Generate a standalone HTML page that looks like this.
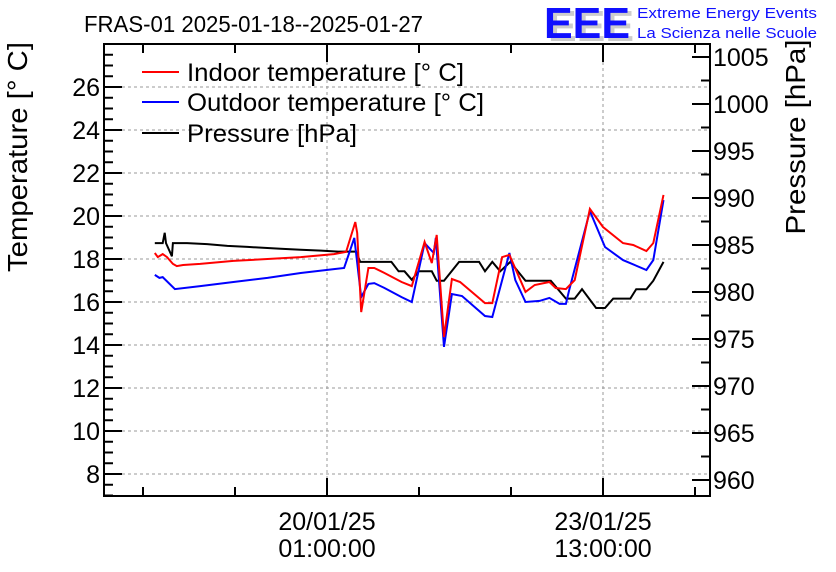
<!DOCTYPE html>
<html><head><meta charset="utf-8"><style>
body{margin:0;background:#fff;}
svg{display:block;font-family:"Liberation Sans",sans-serif;}
</style></head><body>
<svg id="c" width="836" height="572" viewBox="0 0 836 572">
<text x="84" y="32" font-size="23" textLength="339" lengthAdjust="spacingAndGlyphs">FRAS-01 2025-01-18--2025-01-27</text>
<g>
<text x="548" y="41" font-size="44" fill="#ccc" font-weight="bold" textLength="86" lengthAdjust="spacingAndGlyphs">EEE</text>
<text x="544" y="38" font-size="44" fill="#1010ff" font-weight="bold" textLength="86" lengthAdjust="spacingAndGlyphs">EEE</text>
<text x="637" y="18" font-size="15" fill="#1010ff" textLength="180" lengthAdjust="spacingAndGlyphs">Extreme Energy Events</text>
<text x="637" y="38" font-size="15" fill="#1010ff" textLength="180" lengthAdjust="spacingAndGlyphs">La Scienza nelle Scuole</text>
</g>
<g id="grid"></g>
<g id="axes"></g>
<g id="series"></g>
<text transform="translate(27,157) rotate(-90)" text-anchor="middle" font-size="28" textLength="230" lengthAdjust="spacingAndGlyphs">Temperature [° C]</text>
<text transform="translate(805,137) rotate(-90)" text-anchor="middle" font-size="28" textLength="195" lengthAdjust="spacingAndGlyphs">Pressure [hPa]</text>
<g>
<g><line x1="142" y1="72" x2="179" y2="72" stroke="#f00" stroke-width="2"/><text x="187" y="81" font-size="25" textLength="277" lengthAdjust="spacingAndGlyphs">Indoor temperature [° C]</text></g>
<g><line x1="142" y1="102" x2="179" y2="102" stroke="#00f" stroke-width="2"/><text x="187" y="111" font-size="25" textLength="297" lengthAdjust="spacingAndGlyphs">Outdoor temperature [° C]</text></g>
<g><line x1="142" y1="133" x2="179" y2="133" stroke="#000" stroke-width="2"/><text x="187" y="142" font-size="25" textLength="170" lengthAdjust="spacingAndGlyphs">Pressure [hPa]</text></g>
</g>
</svg>
<script>
// hours relative to 20/01/25 01:00:00
const xTickHours=[0,84];
const xTickLabels=[["20/01/25","01:00:00"],["23/01/25","13:00:00"]];
const tempTicks=[8,10,12,14,16,18,20,22,24,26];
const presTicks=[960,965,970,975,980,985,990,995,1000,1005];
const indoorHours=[-52.4,-51.5,-50.0,-48.7,-46.9,-45.7,-43.8,-38.6,-28.5,-18.1,-8.0,2.1,5.8,8.6,9.2,10.4,12.6,14.4,17.5,22.7,25.8,29.7,31.9,33.4,35.6,38.0,40.5,48.1,50.3,53.3,55.5,60.4,63.2,67.7,69.6,72.7,75.4,80.0,84.0,90.1,93.2,97.2,99.3,102.4];
const indoorTemp=[18.28,18.09,18.23,18.09,17.77,17.67,17.72,17.77,17.91,18.0,18.09,18.23,18.33,19.72,19.21,15.53,17.58,17.58,17.35,16.93,16.74,18.79,17.81,19.12,14.37,17.07,16.93,15.95,15.95,18.09,18.19,16.47,16.79,16.93,16.65,16.60,17.02,20.33,19.49,18.74,18.65,18.37,18.74,20.98];
const outdoorHours=[-52.4,-51.0,-50.0,-46.3,-38.6,-28.5,-18.1,-8.0,2.1,5.2,8.3,10.4,12.6,14.4,17.5,22.7,25.8,29.7,32.5,33.1,35.6,38.0,41.1,48.1,50.3,55.5,57.3,60.4,64.7,67.7,70.8,72.7,73.7,80.0,84.6,90.1,97.2,99.3,102.4];
const outdoorTemp=[17.26,17.12,17.16,16.60,16.74,16.93,17.12,17.35,17.53,17.58,18.98,16.23,16.84,16.88,16.65,16.23,16.0,18.74,18.28,18.98,13.91,16.37,16.28,15.35,15.30,18.28,17.02,16.0,16.05,16.19,15.91,15.91,16.56,20.23,18.56,17.95,17.49,17.95,20.74];
const presHours=[-52.4,-50.0,-49.4,-49.0,-47.2,-46.9,-42.6,-36.5,-30.3,-24.2,-14.1,-8.0,-1.8,3.4,8.9,10.1,19.6,21.8,23.6,25.8,27.9,31.9,33.4,35.6,40.2,46.3,48.1,50.3,52.7,55.8,60.4,68.1,72.7,75.4,77.6,81.9,84.6,87.1,92.3,94.1,97.2,99.3,102.4];
const presVal=[985.2,985.2,986.3,985.2,983.8,985.2,985.2,985.1,984.9,984.8,984.6,984.5,984.4,984.3,984.3,983.2,983.2,982.2,982.2,981.3,982.2,982.2,981.2,981.2,983.2,983.2,982.2,983.2,982.2,983.2,981.2,981.2,979.3,979.3,980.3,978.3,978.3,979.3,979.3,980.3,980.3,981.2,983.2];

const NS="http://www.w3.org/2000/svg";
const L=104,R=710,T=44,B=496;
const xs=h=>327+h*(276/84);
const yT=t=>474-(t-8)*21.5;
const yP=p=>57+(1005-p)*9.4;
function mk(tag,attrs,parent){const e=document.createElementNS(NS,tag);for(const k in attrs)e.setAttribute(k,attrs[k]);parent.appendChild(e);return e;}
const grid=document.getElementById('grid'),axes=document.getElementById('axes'),ser=document.getElementById('series');
tempTicks.forEach(t=>{const g=mk('line',{x1:L,x2:R,y1:yT(t),y2:yT(t),stroke:'#999','stroke-dasharray':'3,3'},grid);

});
xTickHours.forEach(h=>{const g=mk('line',{x1:xs(h),x2:xs(h),y1:T,y2:B,stroke:'#999','stroke-dasharray':'3,3'},grid);

});
const fr=mk('rect',{x:L,y:T,width:R-L,height:B-T,fill:'none',stroke:'#000','stroke-width':2},axes);


for(let v=7;v<=28.01;v+=0.5){const maj=Math.abs(v/2-Math.round(v/2))<1e-6;const y=yT(v);if(y<T||y>B)continue;
mk('line',{x1:L,x2:L+(maj?18:9),y1:y,y2:y,stroke:'#000','stroke-width':2},axes);}
tempTicks.forEach(t=>{const e=mk('text',{x:L-4,y:yT(t)+9,'text-anchor':'end','font-size':25},axes);e.textContent=t;

});
for(let v=957.5;v<=1007.5;v+=2.5){const maj=Math.abs(v/5-Math.round(v/5))<1e-6;const y=yP(v);if(y<T||y>B)continue;
mk('line',{x1:R,x2:R-(maj?18:9),y1:y,y2:y,stroke:'#000','stroke-width':2},axes);}
presTicks.forEach(p=>{const e=mk('text',{x:R+3,y:yP(p)+9,'font-size':25},axes);e.textContent=p;

});
for(let h=-196;h<=140;h+=28){const x=xs(h);if(x<=L||x>=R)continue;const maj=xTickHours.includes(h);
mk('line',{x1:x,x2:x,y1:B,y2:B-(maj?18:9),stroke:'#000','stroke-width':2},axes);
mk('line',{x1:x,x2:x,y1:T,y2:T+(maj?18:9),stroke:'#000','stroke-width':2},axes);}
xTickHours.forEach((h,i)=>{[0,1].forEach(j=>{const e=mk('text',{x:xs(h),y:530+j*27,'text-anchor':'middle','font-size':25},axes);e.textContent=xTickLabels[i][j];

});});
function line(hs,vs,yf,col,name){const d=hs.map((h,i)=>xs(h).toFixed(1)+','+yf(vs[i]).toFixed(1)).join(' ');
const p=mk('polyline',{points:d,fill:'none',stroke:col,'stroke-width':2,'stroke-linejoin':'miter'},ser);

}
line(presHours,presVal,yP,'#000','pressure-line');
line(outdoorHours,outdoorTemp,yT,'#00f','outdoor-temperature-line');
line(indoorHours,indoorTemp,yT,'#f00','indoor-temperature-line');
</script>
</body></html>
